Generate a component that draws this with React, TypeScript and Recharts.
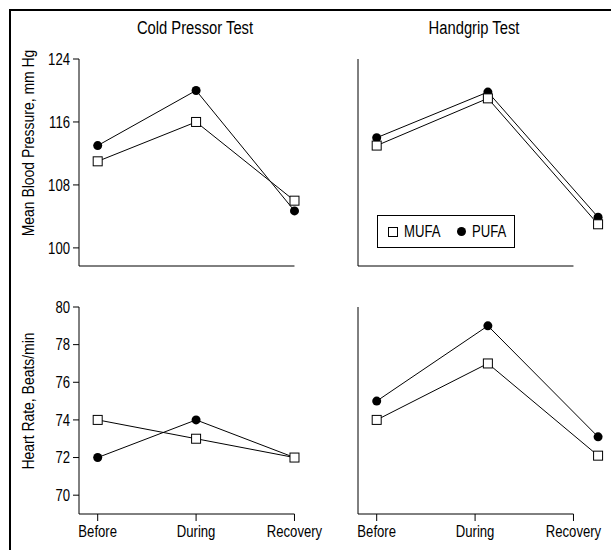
import { LineChart, Line, XAxis, YAxis, ReferenceLine, Legend } from "recharts";

const phases = ["Before", "During", "Recovery"];
// x positions of the points as drawn in each test's panels
const coldX = [0, 1, 2];
const gripX = [0, 1.13, 2.25];

const coldBpMufa = [111, 116, 106];
const coldBpPufa = [113, 120, 104.7];
const gripBpMufa = [113, 119, 103];
const gripBpPufa = [114, 119.8, 103.9];

const coldHrMufa = [74, 73, 72];
const coldHrPufa = [72, 74, 72];
const gripHrMufa = [74, 77, 72.1];
const gripHrPufa = [75, 79, 73.1];

const bpTicks = [100, 108, 116, 124];
const hrTicks = [70, 72, 74, 76, 78, 80];
const xTicks = [0, 1, 2];

// Liberation Sans squeezed horizontally to look like Helvetica Narrow
const FONT = '"Liberation Sans", Arial, sans-serif';
const SQUEEZE = 0.82;
const X_DOMAIN: [number, number] = [-0.19, 2.3];
const Y_AXIS_W = 70;

const SquareDot = (p: any) => (
  <rect key={`s${p.index}`} x={p.cx - 4.5} y={p.cy - 4.5} width={9} height={9} fill="#fff" stroke="#000" strokeWidth={1} />
);
const CircleDot = (p: any) => <circle key={`c${p.index}`} cx={p.cx} cy={p.cy} r={4.5} fill="#000" />;

const YTick = (p: any) => (
  <g transform={`translate(${p.x},${p.y})`}>
    <text transform={`scale(${SQUEEZE},1)`} textAnchor="end" dy="0.355em" fill="#000" fontSize={16} fontFamily={FONT}>
      {p.payload.value}
    </text>
  </g>
);

const XTick = (p: any) => (
  <g transform={`translate(${p.x},${p.y})`}>
    <text transform={`scale(${SQUEEZE},1)`} textAnchor="middle" dy="0.71em" fill="#000" fontSize={16} fontFamily={FONT}>
      {phases[p.payload.value]}
    </text>
  </g>
);

const narrow = (size: number) => ({
  position: "absolute" as const,
  fontFamily: FONT,
  fontSize: size,
  color: "#000",
  whiteSpace: "nowrap" as const,
  lineHeight: 1,
});

function LegendBox() {
  return (
    <div style={{ position: "relative", border: "1px solid #000", width: 136, height: 31, background: "#fff" }}>
      <svg width={10} height={10} style={{ position: "absolute", left: 10, top: 11 }}>
        <rect x={0.5} y={0.5} width={9} height={9} fill="#fff" stroke="#000" />
      </svg>
      <span style={{ ...narrow(16), left: 26, top: 8, transform: `scaleX(${SQUEEZE})`, transformOrigin: "left" }}>MUFA</span>
      <svg width={9} height={9} style={{ position: "absolute", left: 79, top: 11 }}>
        <circle cx={4.5} cy={4.5} r={4.5} fill="#000" />
      </svg>
      <span style={{ ...narrow(16), left: 94, top: 8, transform: `scaleX(${SQUEEZE})`, transformOrigin: "left" }}>PUFA</span>
    </div>
  );
}

type PanelProps = {
  plotLeft: number;
  plotTop: number;
  xs: number[];
  mufa: number[];
  pufa: number[];
  yDomain: [number, number];
  yTicks: number[];
  yLabels: boolean;
  xLabels: boolean;
  legend?: boolean;
};

function Panel({ plotLeft, plotTop, xs, mufa, pufa, yDomain, yTicks, yLabels, xLabels, legend }: PanelProps) {
  const data = xs.map((x, i) => ({ x, phase: phases[i], mufa: mufa[i], pufa: pufa[i] }));
  return (
    <div style={{ position: "absolute", left: plotLeft - Y_AXIS_W, top: plotTop - 10 }}>
      <LineChart width={320} height={252} data={data} margin={{ top: 10, right: 5, bottom: 0, left: 0 }}>
        <XAxis
          type="number"
          dataKey="x"
          domain={X_DOMAIN}
          ticks={xTicks}
          interval={0}
          axisLine={false}
          tickLine={{ stroke: "#000" }}
          tickSize={7}
          tickMargin={5}
          tick={xLabels ? XTick : false}
          height={35}
        />
        <YAxis
          type="number"
          domain={yDomain}
          ticks={yTicks}
          interval={0}
          width={Y_AXIS_W}
          axisLine={{ stroke: "#000" }}
          tickLine={{ stroke: "#000" }}
          tickSize={6}
          tickMargin={3}
          tick={yLabels ? YTick : false}
        />
        <ReferenceLine
          segment={[
            { x: X_DOMAIN[0], y: yDomain[0] },
            { x: 2, y: yDomain[0] },
          ]}
          stroke="#000"
          strokeWidth={1}
          ifOverflow="visible"
        />
        {legend && (
          <Legend
            layout="horizontal"
            verticalAlign="middle"
            align="center"
            content={() => <LegendBox />}
            wrapperStyle={{ left: 89, top: 166, width: 140 }}
          />
        )}
        <Line
          dataKey="pufa"
          name="PUFA"
          stroke="#000"
          strokeWidth={1}
          dot={CircleDot}
          activeDot={false}
          isAnimationActive={false}
        />
        <Line
          dataKey="mufa"
          name="MUFA"
          stroke="#000"
          strokeWidth={1}
          dot={SquareDot}
          activeDot={false}
          isAnimationActive={false}
        />
      </LineChart>
    </div>
  );
}

export default function App() {
  return (
    <div style={{ position: "absolute", left: 0, top: 0, width: 611, height: 550, overflow: "hidden", background: "#fff" }}>
      <div
        style={{
          position: "absolute",
          left: 9,
          top: 9,
          width: 800,
          height: 800,
          borderLeft: "2px solid #000",
          borderTop: "2px solid #000",
        }}
      />
      <div style={{ ...narrow(18), left: 195, top: 28, transform: `translate(-50%, -50%) scaleX(${SQUEEZE})` }}>Cold Pressor Test</div>
      <div style={{ ...narrow(18), left: 474, top: 28, transform: `translate(-50%, -50%) scaleX(${SQUEEZE})` }}>Handgrip Test</div>
      <div style={{ ...narrow(17), left: 28, top: 143, transform: `translate(-50%, -50%) rotate(-90deg) scaleX(${SQUEEZE})` }}>
        Mean Blood Pressure, mm Hg
      </div>
      <div style={{ ...narrow(17), left: 28, top: 401, transform: `translate(-50%, -50%) rotate(-90deg) scaleX(${SQUEEZE})` }}>
        Heart Rate, Beats/min
      </div>

      <Panel plotLeft={79} plotTop={59} xs={coldX} mufa={coldBpMufa} pufa={coldBpPufa} yDomain={[97.7, 124]} yTicks={bpTicks} yLabels xLabels={false} />
      <Panel plotLeft={358} plotTop={59} xs={gripX} mufa={gripBpMufa} pufa={gripBpPufa} yDomain={[97.7, 124]} yTicks={bpTicks} yLabels={false} xLabels={false} legend />
      <Panel plotLeft={79} plotTop={307} xs={coldX} mufa={coldHrMufa} pufa={coldHrPufa} yDomain={[69, 80]} yTicks={hrTicks} yLabels xLabels />
      <Panel plotLeft={358} plotTop={307} xs={gripX} mufa={gripHrMufa} pufa={gripHrPufa} yDomain={[69, 80]} yTicks={hrTicks} yLabels={false} xLabels />
    </div>
  );
}
